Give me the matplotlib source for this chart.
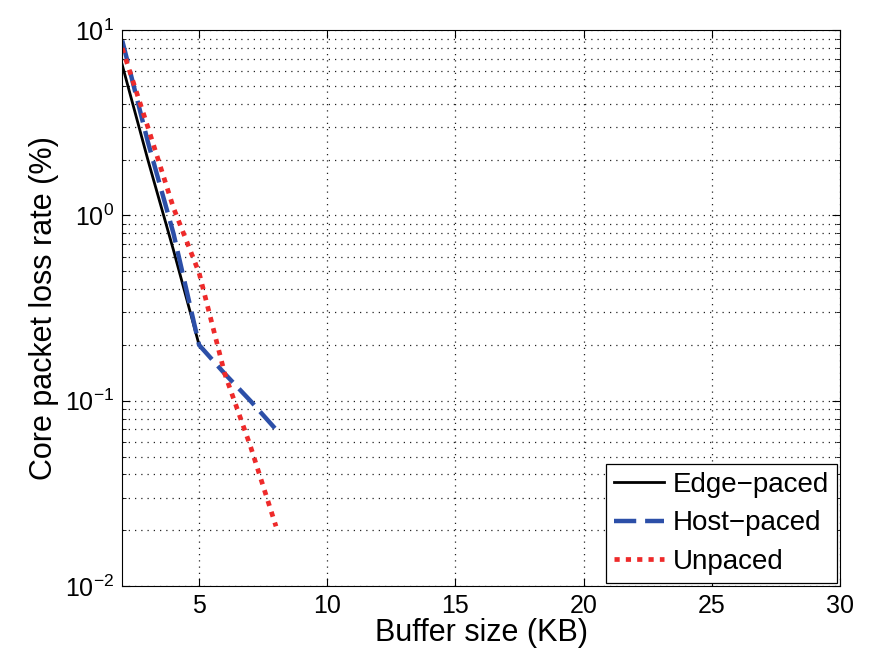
import matplotlib
matplotlib.use("Agg")
import matplotlib.pyplot as plt
from matplotlib.ticker import LogLocator, NullFormatter

plt.rcParams['font.family'] = ['Liberation Sans', 'DejaVu Sans']

edge_x = [2, 3, 4, 5]
edge_y = [6.5, 2.0, 0.65, 0.2]
host_x = [2, 3, 4, 5, 6, 7, 8]
host_y = [8.8, 2.5, 0.8, 0.2, 0.14, 0.1, 0.07]
unp_x = [2, 3, 4, 5, 6, 7, 8]
unp_y = [8.0, 3.0, 1.1, 0.49, 0.14, 0.057, 0.021]

xticks = [5, 10, 15, 20, 25, 30]

fig = plt.figure(figsize=(8.73, 6.57), dpi=100)
ax = fig.add_axes([0.14, 0.108, 0.822, 0.846])
ax.plot(edge_x, edge_y, color='black', lw=2, label='Edge\u2212paced')
ax.plot(host_x, host_y, color='#2C4FA8', lw=3.2, dashes=(5, 2), label='Host\u2212paced')
ax.plot(unp_x, unp_y, color='#EE2A2A', lw=3.4, dashes=(1.1, 1.3), label='Unpaced')
ax.set_yscale('log')
ax.set_xlim(2, 30)
ax.set_ylim(0.01, 10)
ax.set_xticks(xticks)
ax.yaxis.set_major_locator(LogLocator(base=10, numticks=10))
ax.yaxis.set_minor_locator(LogLocator(base=10, subs=range(2, 10), numticks=10))
ax.yaxis.set_minor_formatter(NullFormatter())
gstyle = (0, (1, 4))
ax.grid(True, which='major', linestyle=gstyle, color='#222222', lw=0.9)
ax.grid(True, which='minor', axis='y', linestyle=gstyle, color='#222222', lw=0.9)
ax.tick_params(which='both', direction='in', top=True, right=True, labelsize=18)
ax.tick_params(which='major', length=6, pad=6)
ax.tick_params(which='minor', length=3)
for s in ax.spines.values():
    s.set_linewidth(0.8)
ax.set_xlabel('Buffer size (KB)', fontsize=22, labelpad=0)
ax.set_ylabel('Core packet loss rate (%)', fontsize=22, labelpad=4)
leg = ax.legend(loc='lower right', fontsize=20, fancybox=False, framealpha=1,
                edgecolor='black', borderpad=0.3, handlelength=1.8, labelspacing=0.45,
                handletextpad=0.3, borderaxespad=0.1)
leg.get_frame().set_linewidth(0.9)
fig.savefig('out.png', dpi=100)
